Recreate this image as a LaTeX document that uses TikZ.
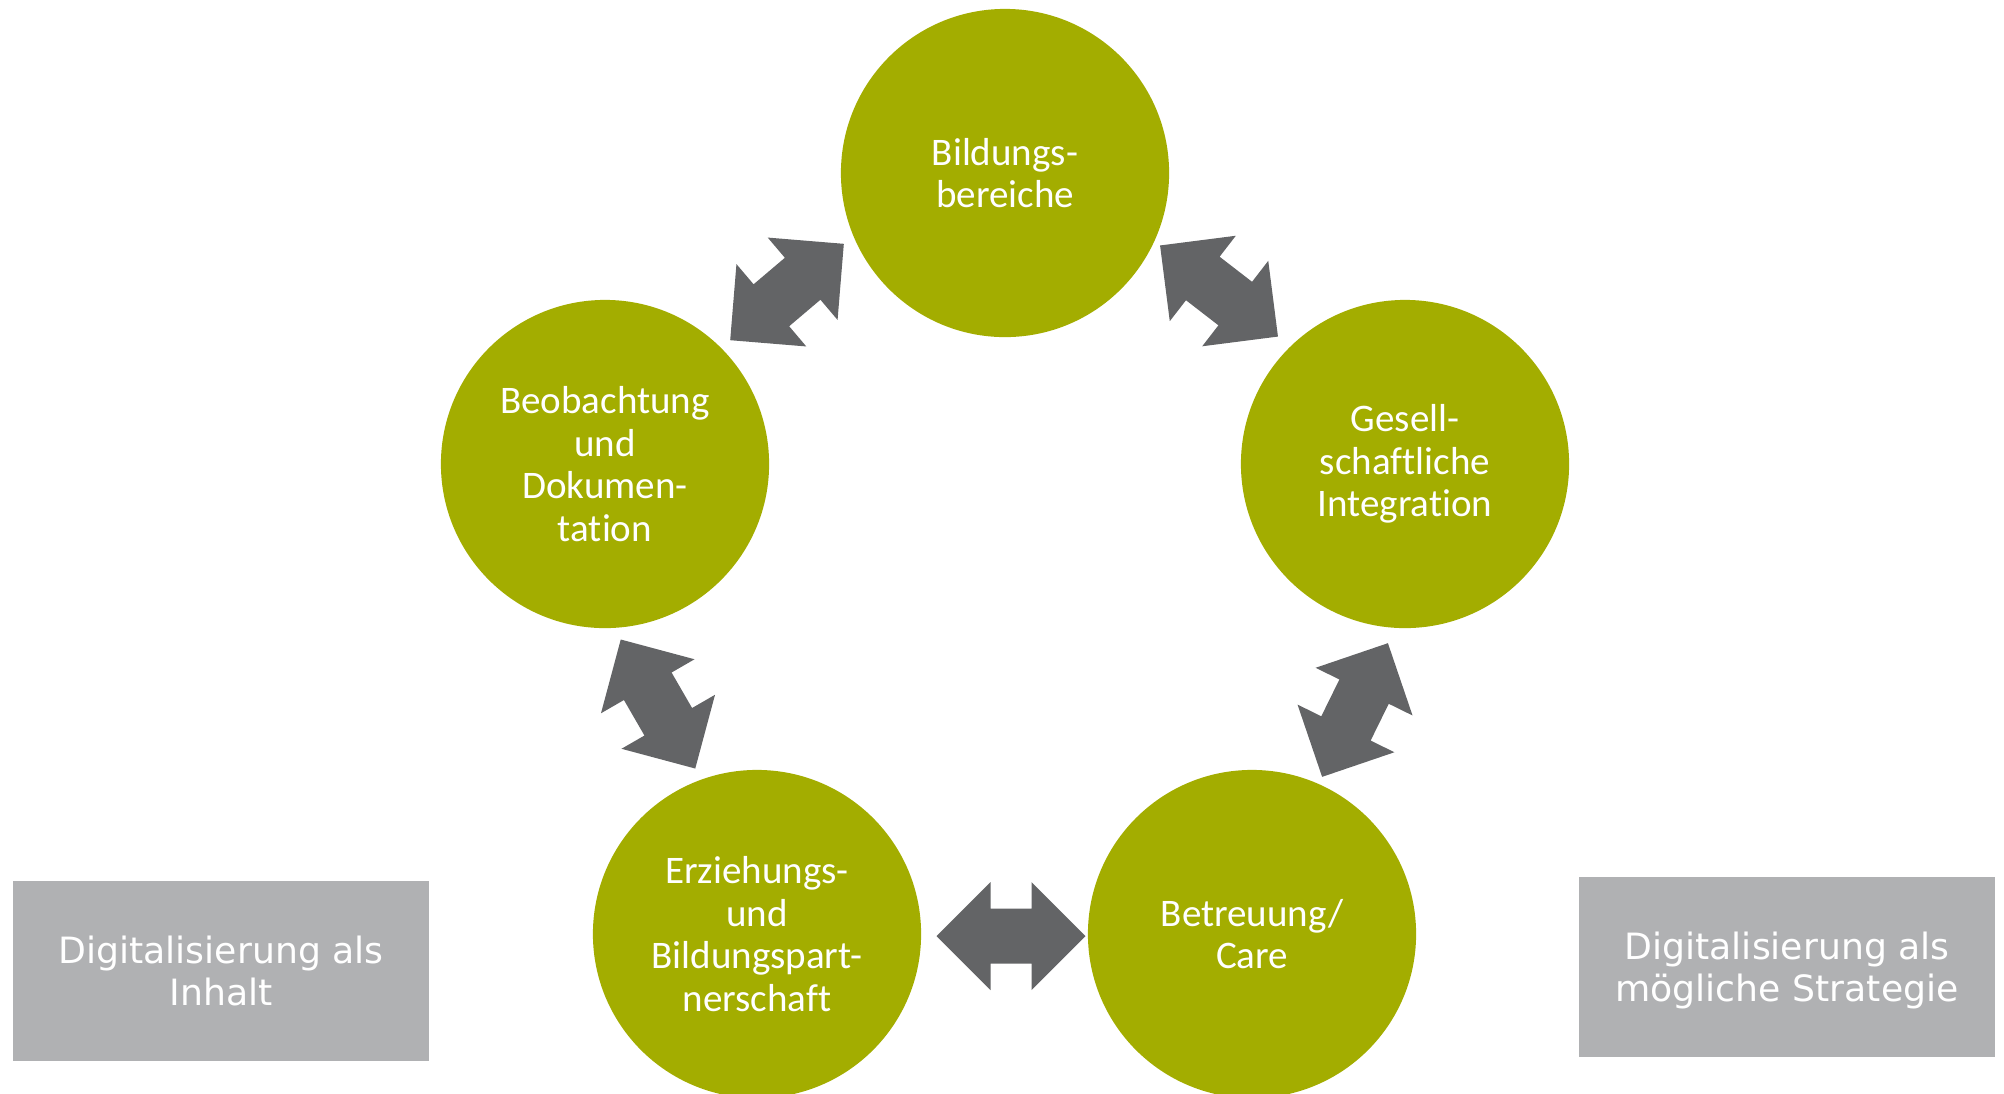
\documentclass[tikz,border=0pt]{standalone}
\usepackage{fontspec}
\setmainfont{Carlito}[Ligatures=NoCommon]
\newfontfamily\boxfont{DejaVu Sans}
\usetikzlibrary{positioning}

\definecolor{ringgreen}{RGB}{163,173,0}
\definecolor{arrowgrey}{RGB}{99,100,102}
\definecolor{boxgrey}{RGB}{176,177,179}

\tikzset{
  area/.style={circle, fill=ringgreen, text=white, inner sep=0pt,
    minimum size=3.28cm, align=center, font=\fontsize{11.1}{12.1}\selectfont},
  side/.style={rectangle, fill=boxgrey, text=white, inner sep=0pt,
    minimum width=4.16cm, minimum height=1.8cm, align=center,
    font=\boxfont\fontsize{10.3}{11.86}\selectfont},
  twoway/.pic={
    \fill[arrowgrey] (-74.5,0) -- (-20.5,54) -- (-20.5,27.5) -- (20.5,27.5)
      -- (20.5,54) -- (74.5,0) -- (20.5,-54) -- (20.5,-27.5)
      -- (-20.5,-27.5) -- (-20.5,-54) -- cycle;
  }
}

\begin{document}
\begin{tikzpicture}[x=0.01cm, y=-0.01cm]
  \clip (0,0) rectangle (2004,1093);

  % the five fields
  \node[area] (bild) at (1005,173) {Bildungs-\\bereiche};
  \node[area] (beob) at (605,464) {Beobachtung\\und\\Dokumen-\\tation};
  \node[area] (ges) at (1405,464) {Gesell-\\schaftliche\\Integration};
  \node[area] (erz) at (757,934) {Erziehungs-\\und\\Bildungspart-\\nerschaft};
  \node[area] (betr) at (1252,934) {Betreuung/\\Care};

  % arrows between the fields
  \coordinate (a1) at (787,292);
  \coordinate (a2) at (1219,291);
  \coordinate (a3) at (1355,710);
  \coordinate (a4) at (1011,936);
  \coordinate (a5) at (658,704);
  \pic[rotate=40.3] at (a1) {twoway};
  \pic[rotate=-37.7] at (a2) {twoway};
  \pic[rotate=63.8] at (a3) {twoway};
  \pic at (a4) {twoway};
  \pic[rotate=-60] at (a5) {twoway};

  % side labels
  \node[side] (inhalt) at (221,971) {Digitalisierung als\\Inhalt};
  \node[side] (strat) at (1787,967) {Digitalisierung als\\\raisebox{0pt}[\height][0pt]{mögliche Strategie}};
\end{tikzpicture}
\end{document}
